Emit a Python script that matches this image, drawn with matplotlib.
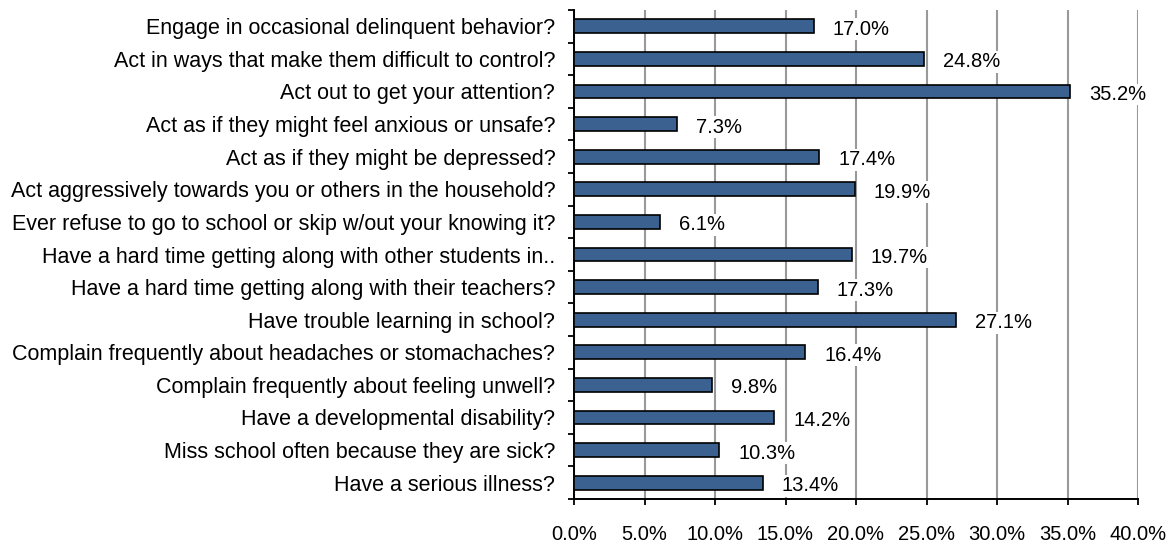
import numpy as np
import matplotlib.pyplot as plt
from matplotlib.ticker import FixedLocator, PercentFormatter

# ------------------------------------------------------------
# Data (top to bottom as shown)
# ------------------------------------------------------------
questions = [
    "Engage in occasional delinquent behavior?",
    "Act in ways that make them difficult to control?",
    "Act out to get your attention?",
    "Act as if they might feel anxious or unsafe?",
    "Act as if they might be depressed?",
    "Act aggressively towards you or others in the household?",
    "Ever refuse to go to school or skip w/out your knowing it?",
    "Have a hard time getting along with other students in..",
    "Have a hard time getting along with their teachers?",
    "Have trouble learning in school?",
    "Complain frequently about headaches or stomachaches?",
    "Complain frequently about feeling unwell?",
    "Have a developmental disability?",
    "Miss school often because they are sick?",
    "Have a serious illness?",
]
percents = [17.0, 24.8, 35.2, 7.3, 17.4, 19.9, 6.1, 19.7, 17.3, 27.1, 16.4, 9.8, 14.2, 10.3, 13.4]
x_ticks = [0, 5, 10, 15, 20, 25, 30, 35, 40]

plt.rcParams['font.family'] = ['Liberation Sans', 'DejaVu Sans']

W, H = 1175, 544
fig = plt.figure(figsize=(W / 100, H / 100), dpi=100)
ax = fig.add_axes([574 / W, (H - 499) / H, (1138 - 574) / W, (499 - 10) / H])

n = len(questions)
ypos = np.arange(n)[::-1]
ax.barh(ypos, percents, height=0.42, color="#3A6190", edgecolor="black", linewidth=1.2, zorder=3)

for y, v in zip(ypos, percents):
    ax.text(v + 1.35, y - 0.09, f"{v:.1f}%", va="center", ha="left", fontsize=14.5, zorder=4,
            bbox=dict(facecolor="white", edgecolor="none", pad=1))

ax.set_xlim(0, 40)
ax.set_ylim(-0.5, n - 0.5)
ax.xaxis.set_major_locator(FixedLocator(x_ticks))
ax.xaxis.set_major_formatter(PercentFormatter(decimals=1))
ax.grid(axis="x", color="#999999", linewidth=1.5, zorder=0)

ax.set_yticks(ypos)
ax.set_yticklabels(questions, fontsize=15.5)
ax.yaxis.set_minor_locator(FixedLocator(np.arange(-0.5, n, 1.0)))
ax.tick_params(axis="y", which="major", length=0, pad=13.5)
ax.tick_params(axis="y", which="minor", length=4, width=1.3, direction="out")
ax.tick_params(axis="x", length=4, width=1.3, labelsize=14.5, pad=15)

for side in ["top", "right"]:
    ax.spines[side].set_visible(False)
for side in ["left", "bottom"]:
    ax.spines[side].set_linewidth(1.4)

fig.savefig("out.png", dpi=100)
